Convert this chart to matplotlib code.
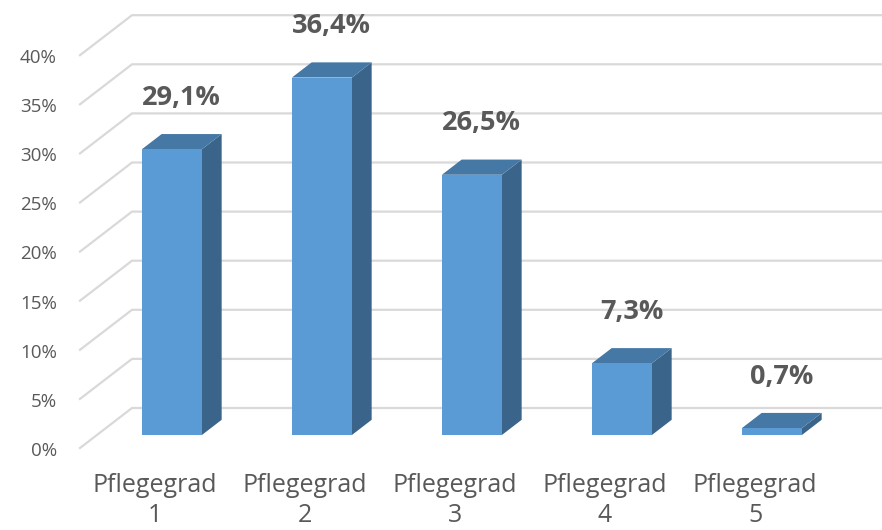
import matplotlib.pyplot as plt
from matplotlib.patches import Polygon

# Excel style 3D column chart, rebuilt with flat polygons
categories = ['Pflegegrad 1', 'Pflegegrad 2', 'Pflegegrad 3', 'Pflegegrad 4', 'Pflegegrad 5']
values = [29.1, 36.4, 26.5, 7.3, 0.7]
ytick_values = [0, 5, 10, 15, 20, 25, 30, 35, 40]

plt.rcParams['font.family'] = ['Open Sans', 'DejaVu Sans']
txt_col = '#595959'
grid_col = '#d9d9d9'
front_col = '#5b9bd5'
top_col = '#4678a6'
side_col = '#3a6489'

# depth offset of the back wall (data units), bar depth range, bar width
DX = 52 / 150
DY = 40 / 9.82
D1, D2 = 0.325, 0.705
W = 0.4

def proj(x, v, d):
    return (x + d * DX, v + d * DY)

fig = plt.figure(figsize=(8.82, 5.3), dpi=100)
ax = fig.add_axes([0, 0, 1, 1])
ax.set_xlim(-155 / 150, (882 - 155) / 150)
ax.set_ylim(-82 / 9.82, (530 - 82) / 9.82)
ax.axis('off')

# gridlines: diagonal on the side wall, then flat along the back wall
x_left = (80 - 155) / 150
for v in ytick_values:
    p0 = proj(x_left, v, 0)
    p1 = proj(x_left, v, 1)
    ax.plot([p0[0], p1[0], 10], [p0[1], p1[1], p1[1]], color=grid_col, lw=1.6,
            zorder=1, solid_joinstyle='miter')
    ax.text((57 - 155) / 150, v - 0.8, f'{v}%', ha='right', va='baseline',
            fontsize=13.5, color=txt_col)

for i, (cat, val) in enumerate(zip(categories, values)):
    x0, x1 = i - W / 2, i + W / 2
    front = [proj(x0, 0, D1), proj(x1, 0, D1), proj(x1, val, D1), proj(x0, val, D1)]
    top = [proj(x0, val, D1), proj(x1, val, D1), proj(x1, val, D2), proj(x0, val, D2)]
    side = [proj(x1, 0, D1), proj(x1, 0, D2), proj(x1, val, D2), proj(x1, val, D1)]
    ax.add_patch(Polygon(side, closed=True, fc=side_col, ec='none', zorder=3))
    ax.add_patch(Polygon(top, closed=True, fc=top_col, ec='none', zorder=3))
    ax.add_patch(Polygon(front, closed=True, fc=front_col, ec='none', zorder=4))

    mx, my = proj(i, val, (D1 + D2) / 2)
    ax.text(mx, my + 3.77, f'{val:.1f}%'.replace('.', ','), ha='center', va='baseline',
            fontsize=19.5, fontweight='bold', color=txt_col, zorder=5)

    word, num = cat.rsplit(' ', 1)
    ax.text(i, -4.48, word, ha='center', va='baseline', fontsize=18, color=txt_col)
    ax.text(i, -7.5, num, ha='center', va='baseline', fontsize=18, color=txt_col)

fig.savefig('out.png', dpi=100)
